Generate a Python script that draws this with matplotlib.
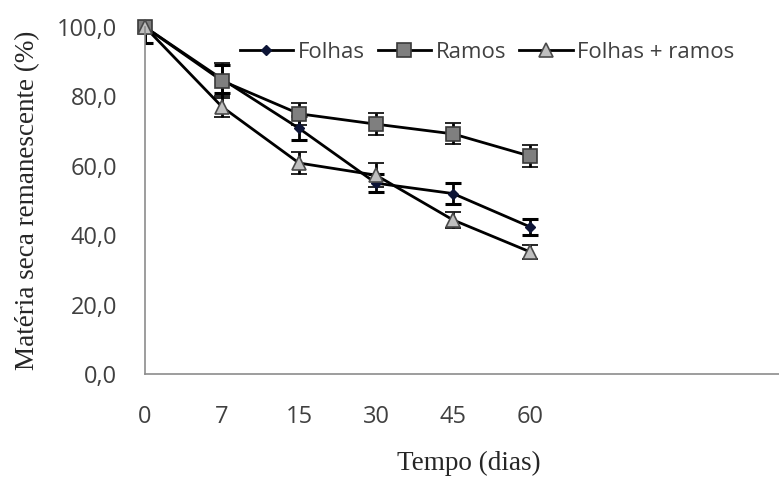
import matplotlib
matplotlib.use("Agg")
import matplotlib.pyplot as plt
from matplotlib.ticker import FuncFormatter

days = ["0", "7", "15", "30", "45", "60"]
folhas = [100.0, 85.0, 70.8, 55.0, 52.0, 42.4]
folhas_err = [4.5, 4.0, 3.5, 2.6, 2.9, 2.2]
ramos = [100.0, 84.5, 75.0, 72.0, 69.2, 62.8]
ramos_err = [4.5, 5.0, 3.2, 3.2, 3.0, 3.2]
fr = [100.0, 77.0, 60.8, 57.3, 44.4, 35.2]
fr_err = [4.5, 3.0, 3.2, 3.5, 2.3, 2.0]
labels = ["Folhas", "Ramos", "Folhas + ramos"]

W, H = 779, 479
fig = plt.figure(figsize=(W / 100, H / 100), dpi=100)
ax = fig.add_axes([145 / W, (H - 374) / H, (W - 145) / W, (374 - 27) / H])

x = list(range(len(days)))
series = [
    (folhas, folhas_err, dict(marker="D", markersize=5, markerfacecolor="#0d1436", markeredgecolor="#0d1436")),
    (ramos, ramos_err, dict(marker="s", markersize=10.5, markerfacecolor="#7f7f7f", markeredgecolor="#3a3a3a", markeredgewidth=1.2)),
    (fr, fr_err, dict(marker="^", markersize=10, markerfacecolor="#bfbfbf", markeredgecolor="#4a4a4a", markeredgewidth=1.2)),
]
handles = []
for (vals, err, mk), lab in zip(series, labels):
    cont = ax.errorbar(x, vals, yerr=err, color="black", linewidth=2.0, ecolor="black",
                       elinewidth=2.0, capsize=6, capthick=2.2, label=lab, **mk)
    cont[0].set_clip_on(False)
    handles.append(cont[0])

ax.set_xlim(0, (W - 145) / 77.0)
ax.set_ylim(0, 100)
ax.set_xticks(x)
ax.set_xticklabels(days)
ax.set_yticks([0, 20, 40, 60, 80, 100])
ax.yaxis.set_major_formatter(FuncFormatter(lambda v, p: f"{v:.1f}".replace(".", ",")))

for s in ["top", "right"]:
    ax.spines[s].set_visible(False)
for s in ["left", "bottom"]:
    ax.spines[s].set_color("#8c8c8c")
    ax.spines[s].set_linewidth(1.2)
ax.tick_params(axis="both", length=0, labelsize=17, labelcolor="#404040")
ax.tick_params(axis="y", pad=20)
ax.tick_params(axis="x", pad=22)
for t in ax.get_xticklabels() + ax.get_yticklabels():
    t.set_fontfamily("Open Sans")

ax.set_ylabel("Matéria seca remanescente (%)", fontfamily="Liberation Serif", fontsize=19.5, color="#262626", labelpad=12)
ax.set_xlabel("Tempo (dias)", fontfamily="Liberation Serif", fontsize=19.5, color="#262626", labelpad=18)
ax.xaxis.set_label_coords((469 - 145) / (W - 145), -0.222)

leg = fig.legend(handles, labels, loc="center", bbox_to_anchor=(487 / W, 1 - 52 / H), ncol=3,
                 frameon=False, prop={"family": "Open Sans", "size": 16}, handlelength=2.4,
                 handletextpad=0.2, columnspacing=0.6, numpoints=1)
for t in leg.get_texts():
    t.set_color("#404040")

fig.savefig("out.png", dpi=100)
